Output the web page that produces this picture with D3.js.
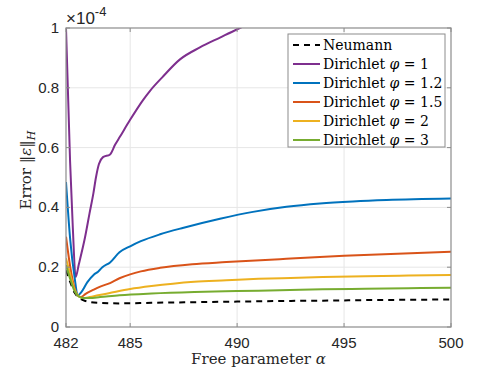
<!DOCTYPE html>
<html><head><meta charset="utf-8">
<script src="https://cdn.jsdelivr.net/npm/d3@7"></script>
<style>body{margin:0;background:#fff}svg{display:block}</style>
</head><body>
<script>
// ---- data (error values in units of 1e-4) ----
const neumannAlpha = [482,482.2,482.4,482.6,482.8,483.1,483.5,484.5,486,488,490,492,494,496,498,500];
const neumannErr   = [0.19,0.15,0.115,0.098,0.09,0.084,0.081,0.079,0.081,0.083,0.085,0.087,0.088,0.09,0.091,0.092];

const phi1Alpha = [482,482.19,482.32,482.45,482.6,482.89,483.1,483.28,483.4,483.54,483.73,484.06,484.3,484.52,484.99,485.6,485.93,486.5,487.33,488.26,489.2,490.13,490.6];
const phi1Err   = [1.0,0.555,0.33,0.167,0.21,0.30,0.38,0.447,0.5,0.545,0.568,0.577,0.61,0.636,0.692,0.759,0.79,0.835,0.895,0.935,0.968,1.0,1.015];

const phi12Alpha = [482,482.2,482.4,482.55,482.7,483,483.3,483.5,483.7,484.06,484.5,485,485.5,486.4,487.5,489.2,490.74,492.31,493.87,495.41,496.99,500];
const phi12Err   = [0.485,0.29,0.167,0.105,0.115,0.15,0.175,0.185,0.2,0.216,0.25,0.27,0.287,0.31,0.332,0.362,0.385,0.402,0.413,0.42,0.425,0.43];

const phi15Alpha = [482,482.2,482.4,482.55,482.7,482.9,483.3,483.6,484.06,484.5,485,485.5,486.4,487.9,489.5,492.3,495,500];
const phi15Err   = [0.302,0.2,0.13,0.105,0.1,0.11,0.125,0.135,0.147,0.163,0.176,0.186,0.198,0.21,0.217,0.228,0.238,0.252];

const phi2Alpha = [482,482.2,482.4,482.6,482.8,483.1,483.5,484,485,486,487,488,489.5,491,492.5,494,496,498,500];
const phi2Err   = [0.23,0.175,0.125,0.102,0.097,0.1,0.106,0.113,0.127,0.137,0.145,0.151,0.156,0.161,0.164,0.167,0.17,0.172,0.174];

const phi3Alpha = [482,482.2,482.4,482.6,482.8,483.1,483.6,484.5,486,488,490,492,494,496,498,500];
const phi3Err   = [0.207,0.16,0.12,0.102,0.097,0.097,0.1,0.106,0.112,0.117,0.12,0.123,0.126,0.128,0.13,0.131];

const seriesNames = ["Neumann","Dirichlet φ = 1","Dirichlet φ = 1.2","Dirichlet φ = 1.5","Dirichlet φ = 2","Dirichlet φ = 3"];
const xTicks = [482,485,490,495,500];
const yTicks = [0,0.2,0.4,0.6,0.8,1];
const yTickLabels = ["0","0.2","0.4","0.6","0.8","1"];

// ---- layout ----
const W = 498, H = 374;
const L = 66, R = 451, T = 28, B = 327;
const x = d3.scaleLinear().domain([482,500]).range([L,R]);
const y = d3.scaleLinear().domain([0,1]).range([B,T]);

const svg = d3.select("body").append("svg").attr("width",W).attr("height",H);
const sansFont = "'Liberation Sans', Arial, sans-serif";
const serifFont = "'DejaVu Serif', 'Liberation Serif', serif";

// grid
const grid = svg.append("g");
grid.selectAll("line.vx").data(xTicks.slice(1,-1)).enter().append("line")
  .attr("x1",d=>x(d)).attr("x2",d=>x(d)).attr("y1",T).attr("y2",B)
  .attr("stroke","#e6e6e6").attr("stroke-width",1);
grid.selectAll("line.hy").data(yTicks.slice(1,-1)).enter().append("line")
  .attr("x1",L).attr("x2",R).attr("y1",d=>y(d)).attr("y2",d=>y(d))
  .attr("stroke","#e6e6e6").attr("stroke-width",1);

// series
const series = [
  {name:seriesNames[1], a:phi1Alpha, v:phi1Err, color:"#7E2F8E", dash:null},
  {name:seriesNames[2], a:phi12Alpha, v:phi12Err, color:"#0072BD", dash:null},
  {name:seriesNames[3], a:phi15Alpha, v:phi15Err, color:"#D95319", dash:null},
  {name:seriesNames[4], a:phi2Alpha, v:phi2Err, color:"#EDB120", dash:null},
  {name:seriesNames[5], a:phi3Alpha, v:phi3Err, color:"#77AC30", dash:null},
];
const neumann = {name:seriesNames[0], a:neumannAlpha, v:neumannErr, color:"#000000", dash:"6,5"};

svg.append("clipPath").attr("id","clip").append("rect")
  .attr("x",L).attr("y",T).attr("width",R-L).attr("height",B-T);

const line = d3.line().x(d=>x(d[0])).y(d=>y(d[1])).curve(d3.curveMonotoneX);
const plotG = svg.append("g").attr("clip-path","url(#clip)");
[neumann, ...series].forEach(s=>{
  plotG.append("path").datum(s.a.map((a,i)=>[a,s.v[i]]))
    .attr("d",line).attr("fill","none").attr("stroke",s.color)
    .attr("stroke-width",2).attr("stroke-dasharray",s.dash);
});

// axes box
const axisColor = "#8c8c8c";
const axG = svg.append("g");
axG.append("rect").attr("x",L).attr("y",T).attr("width",R-L).attr("height",B-T)
  .attr("fill","none").attr("stroke",axisColor).attr("stroke-width",1.2);
const tl = 4;
xTicks.forEach(t=>{
  axG.append("line").attr("x1",x(t)).attr("x2",x(t)).attr("y1",B).attr("y2",B-tl).attr("stroke",axisColor);
  axG.append("line").attr("x1",x(t)).attr("x2",x(t)).attr("y1",T).attr("y2",T+tl).attr("stroke",axisColor);
});
yTicks.forEach(t=>{
  axG.append("line").attr("x1",L).attr("x2",L+tl).attr("y1",y(t)).attr("y2",y(t)).attr("stroke",axisColor);
  axG.append("line").attr("x1",R).attr("x2",R-tl).attr("y1",y(t)).attr("y2",y(t)).attr("stroke",axisColor);
});

// tick labels
svg.append("g").selectAll("text").data(xTicks).enter().append("text")
  .attr("x",d=>x(d)).attr("y",B+21).attr("text-anchor","middle")
  .attr("font-family",sansFont).attr("font-size",15).attr("fill","#262626")
  .text(d=>d);
svg.append("g").selectAll("text").data(yTicks).enter().append("text")
  .attr("x",L-7).attr("y",d=>y(d)+5).attr("text-anchor","end")
  .attr("font-family",sansFont).attr("font-size",15).attr("fill","#262626")
  .text((d,i)=>yTickLabels[i]);

// exponent
const ex = svg.append("text").attr("x",L).attr("y",T-4)
  .attr("font-family",sansFont).attr("font-size",17).attr("fill","#262626");
ex.append("tspan").text("×10");
ex.append("tspan").attr("dy",-8).attr("font-size",13).text("-4");

// axis labels
const xl = svg.append("text").attr("x",(L+R)/2).attr("y",364).attr("text-anchor","middle")
  .attr("font-family",serifFont).attr("font-size",15).attr("fill","#262626");
xl.append("tspan").text("Free parameter ");
xl.append("tspan").attr("font-style","italic").text("α");

const yl = svg.append("text").attr("transform",`translate(31,170) rotate(-90)`)
  .attr("text-anchor","middle").attr("font-family",serifFont).attr("font-size",15).attr("fill","#262626");
yl.append("tspan").text("Error ‖");
yl.append("tspan").attr("font-style","italic").text("ε");
yl.append("tspan").text("‖");
yl.append("tspan").attr("font-style","italic").attr("font-size",11).attr("dy",4).text("H");

// legend
const lx = 288, ly = 34, lw = 157, lh = 113;
const lg = svg.append("g");
lg.append("rect").attr("x",lx).attr("y",ly).attr("width",lw).attr("height",lh)
  .attr("fill","#fff").attr("stroke","#8c8c8c").attr("stroke-width",1);
const items = [neumann, ...series];
items.forEach((s,i)=>{
  const cy = 45 + i*19;
  lg.append("line").attr("x1",293).attr("x2",320).attr("y1",cy).attr("y2",cy)
    .attr("stroke",s.color).attr("stroke-width",2).attr("stroke-dasharray",s.dash);
  const t = lg.append("text").attr("x",323).attr("y",cy+5)
    .attr("font-family",serifFont).attr("font-size",14).attr("fill","#000");
  if (i===0) { t.text(s.name); }
  else {
    const parts = s.name.split("φ");
    t.append("tspan").text(parts[0]);
    t.append("tspan").attr("font-style","italic").text("φ");
    t.append("tspan").text(parts[1]);
  }
});
</script>
</body></html>
